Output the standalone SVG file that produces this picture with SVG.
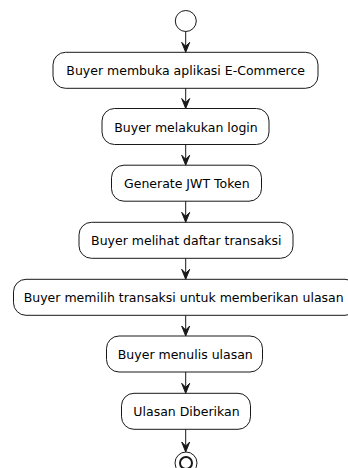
<svg xmlns="http://www.w3.org/2000/svg" width="348" height="468" viewBox="0 0 348 468">
<defs>
<style>
.bg{fill:#ffffff}
.act rect{fill:#ffffff;stroke:#181818;stroke-width:1}
.act text{font-family:"DejaVu Sans",sans-serif;font-size:12.5px;fill:#000000;text-anchor:middle}
.conn line{stroke:#181818;stroke-width:1}
.conn polygon{fill:#181818;stroke:#181818;stroke-width:1}
</style>
</defs>
<rect class="bg" x="0" y="0" width="348" height="468"/>
<g id="start">
<circle cx="185.8" cy="21" r="10.5" fill="#ffffff" stroke="#181818" stroke-width="1"/>
</g>
<g id="a1" class="act"><rect x="53" y="52.3" width="265" height="36" rx="12.5" ry="12.5"/><text x="185.7" y="75.3">Buyer membuka aplikasi E-Commerce</text></g>
<g id="a2" class="act"><rect x="102" y="108.5" width="167" height="36" rx="12.5" ry="12.5"/><text x="186" y="131.5">Buyer melakukan login</text></g>
<g id="a3" class="act"><rect x="111.5" y="165.2" width="150" height="36" rx="12.5" ry="12.5"/><text x="186.8" y="188.2">Generate JWT Token</text></g>
<g id="a4" class="act"><rect x="79" y="222.3" width="214" height="36" rx="12.5" ry="12.5"/><text x="186.3" y="245.3">Buyer melihat daftar transaksi</text></g>
<g id="a5" class="act"><rect x="13.5" y="279.3" width="344" height="36" rx="12.5" ry="12.5"/><text x="183.7" y="302.3">Buyer memilih transaksi untuk memberikan ulasan</text></g>
<g id="a6" class="act"><rect x="106.5" y="336" width="156" height="36" rx="12.5" ry="12.5"/><text x="185.3" y="359">Buyer menulis ulasan</text></g>
<g id="a7" class="act"><rect x="121.5" y="393.3" width="129" height="36" rx="12.5" ry="12.5"/><text x="186.5" y="416.3">Ulasan Diberikan</text></g>
<g id="end">
<circle cx="186" cy="463" r="11" fill="#ffffff" stroke="#181818" stroke-width="1"/>
<circle cx="186" cy="463" r="6" fill="#ffffff" stroke="#181818" stroke-width="2"/>
</g>
<g id="connectors" class="conn">
<line x1="185.7" y1="31.5" x2="185.7" y2="50"/><polygon points="181.7,42.3 185.7,52.3 189.7,42.3 185.7,46.3"/>
<line x1="185.7" y1="88.3" x2="185.7" y2="106"/><polygon points="181.7,98.5 185.7,108.5 189.7,98.5 185.7,102.5"/>
<line x1="185.7" y1="144.5" x2="185.7" y2="163"/><polygon points="181.7,155.2 185.7,165.2 189.7,155.2 185.7,159.2"/>
<line x1="185.7" y1="201.2" x2="185.7" y2="220"/><polygon points="181.7,212.3 185.7,222.3 189.7,212.3 185.7,216.3"/>
<line x1="185.7" y1="258.3" x2="185.7" y2="277"/><polygon points="181.7,269.3 185.7,279.3 189.7,269.3 185.7,273.3"/>
<line x1="185.7" y1="315.3" x2="185.7" y2="334"/><polygon points="181.7,326 185.7,336 189.7,326 185.7,330"/>
<line x1="185.7" y1="372" x2="185.7" y2="391"/><polygon points="181.7,383.3 185.7,393.3 189.7,383.3 185.7,387.3"/>
<line x1="185.7" y1="429.3" x2="185.7" y2="450"/><polygon points="181.7,442 185.7,452 189.7,442 185.7,446"/>
</g>
</svg>
